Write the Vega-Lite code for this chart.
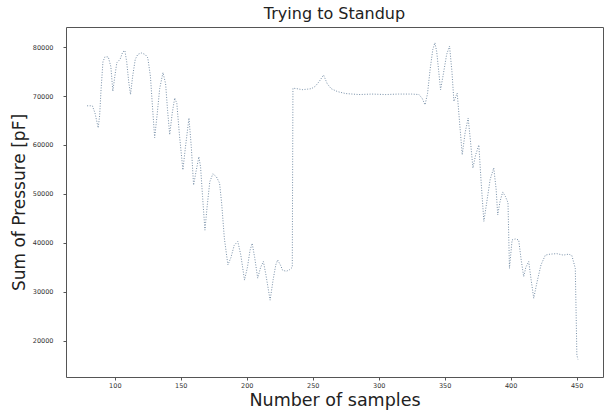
{
  "$schema": "https://vega.github.io/schema/vega-lite/v6.json",
  "width": 537,
  "height": 350,
  "autosize": {"type": "none"},
  "padding": {"left": 66, "top": 27, "right": 8, "bottom": 34},
  "background": "white",
  "config": {
    "font": "DejaVu Sans",
    "view": {"stroke": "#555555", "strokeWidth": 1},
    "axis": {"grid": false, "domain": false, "tickColor": "#555555", "tickSize": 3, "labelColor": "#333333", "labelFontSize": 6.5, "titleColor": "#222222", "titleFontWeight": "normal", "labelFont": "DejaVu Sans", "titleFont": "DejaVu Sans"}
  },
  "title": {"text": "Trying to Standup", "fontSize": 16, "fontWeight": "normal", "color": "#222222", "font": "DejaVu Sans", "offset": 5},
  "data": {"values": [
    {"s": 79, "p": 68000}, {"s": 83, "p": 68000}, {"s": 85, "p": 66500}, {"s": 87.4, "p": 63500}, {"s": 88.5, "p": 66000},
    {"s": 89.5, "p": 71000}, {"s": 91, "p": 77000}, {"s": 92.5, "p": 78000}, {"s": 95, "p": 78000}, {"s": 97, "p": 76000},
    {"s": 98.5, "p": 71000}, {"s": 100, "p": 74000}, {"s": 101.5, "p": 76800}, {"s": 104, "p": 77500}, {"s": 106, "p": 79000},
    {"s": 107.6, "p": 79300}, {"s": 109, "p": 77000}, {"s": 110.5, "p": 73000}, {"s": 111.9, "p": 70300}, {"s": 113.5, "p": 74000},
    {"s": 115.5, "p": 77500}, {"s": 117.4, "p": 78500}, {"s": 120, "p": 78800}, {"s": 123, "p": 78500}, {"s": 125, "p": 77800},
    {"s": 127, "p": 74000}, {"s": 128.5, "p": 68000}, {"s": 130.2, "p": 61500}, {"s": 132, "p": 66000}, {"s": 134, "p": 71500},
    {"s": 136.5, "p": 74800}, {"s": 138.5, "p": 72500}, {"s": 140, "p": 67000}, {"s": 141.6, "p": 62100}, {"s": 143.5, "p": 66500},
    {"s": 145.4, "p": 69600}, {"s": 147, "p": 68500}, {"s": 149, "p": 62000}, {"s": 151.6, "p": 54900}, {"s": 153.5, "p": 59500},
    {"s": 156.2, "p": 65500}, {"s": 158, "p": 59500}, {"s": 159.7, "p": 51800}, {"s": 161.5, "p": 54500}, {"s": 163.7, "p": 57600},
    {"s": 165, "p": 55500}, {"s": 166.5, "p": 49500}, {"s": 168.3, "p": 42600}, {"s": 170, "p": 47500}, {"s": 172, "p": 52500},
    {"s": 174.3, "p": 54100}, {"s": 177, "p": 53500}, {"s": 179.4, "p": 52200}, {"s": 181, "p": 48000}, {"s": 183, "p": 41000},
    {"s": 185.7, "p": 35500}, {"s": 188, "p": 37000}, {"s": 190.5, "p": 39500}, {"s": 193.2, "p": 40300}, {"s": 195.5, "p": 37500},
    {"s": 198.3, "p": 32400}, {"s": 200.5, "p": 35000}, {"s": 202.5, "p": 38500}, {"s": 204.1, "p": 39900}, {"s": 206, "p": 37000},
    {"s": 208.3, "p": 32800}, {"s": 210.5, "p": 35000}, {"s": 212.6, "p": 36200}, {"s": 214.5, "p": 33500}, {"s": 217.7, "p": 28300},
    {"s": 220, "p": 32500}, {"s": 222, "p": 35500}, {"s": 223.4, "p": 36500}, {"s": 225.5, "p": 35500}, {"s": 227.2, "p": 34400},
    {"s": 230, "p": 34200}, {"s": 232.3, "p": 34500}, {"s": 234.5, "p": 35000}, {"s": 235, "p": 71600}, {"s": 238, "p": 71500},
    {"s": 242, "p": 71300}, {"s": 246, "p": 71400}, {"s": 249, "p": 71500}, {"s": 252, "p": 72000}, {"s": 255, "p": 73000},
    {"s": 258.2, "p": 74300}, {"s": 261, "p": 72500}, {"s": 264, "p": 71500}, {"s": 268.8, "p": 70900}, {"s": 275, "p": 70500},
    {"s": 285, "p": 70300}, {"s": 295, "p": 70400}, {"s": 305, "p": 70300}, {"s": 315, "p": 70400}, {"s": 325, "p": 70400},
    {"s": 330.5, "p": 70300}, {"s": 333, "p": 69500}, {"s": 335.1, "p": 68200}, {"s": 337, "p": 70500}, {"s": 339, "p": 75500},
    {"s": 341, "p": 79500}, {"s": 342.6, "p": 80900}, {"s": 344, "p": 79000}, {"s": 345.5, "p": 75000}, {"s": 346.9, "p": 71300},
    {"s": 349, "p": 74500}, {"s": 351.5, "p": 78500}, {"s": 353.7, "p": 80200}, {"s": 355.5, "p": 75000}, {"s": 357, "p": 68900},
    {"s": 359.5, "p": 70600}, {"s": 361.5, "p": 64000}, {"s": 363.3, "p": 58000}, {"s": 365.5, "p": 62500}, {"s": 367.8, "p": 65500},
    {"s": 369.5, "p": 61000}, {"s": 371.4, "p": 55300}, {"s": 373.5, "p": 58000}, {"s": 375.9, "p": 60000}, {"s": 377.5, "p": 53000},
    {"s": 379.7, "p": 44400}, {"s": 382, "p": 48500}, {"s": 384.5, "p": 53000}, {"s": 387.2, "p": 55300}, {"s": 389, "p": 51000},
    {"s": 390.2, "p": 45700}, {"s": 392, "p": 48500}, {"s": 394, "p": 50400}, {"s": 396, "p": 49500}, {"s": 398, "p": 48200},
    {"s": 399.1, "p": 34800}, {"s": 401.1, "p": 40600}, {"s": 403.5, "p": 40800}, {"s": 406.1, "p": 40600}, {"s": 408, "p": 36500},
    {"s": 409.9, "p": 33100}, {"s": 411.5, "p": 35000}, {"s": 413.7, "p": 36200}, {"s": 415.5, "p": 32500}, {"s": 417.5, "p": 28700},
    {"s": 420, "p": 32000}, {"s": 423, "p": 35500}, {"s": 426.3, "p": 37500}, {"s": 430, "p": 37700}, {"s": 435, "p": 37800},
    {"s": 440, "p": 37500}, {"s": 444, "p": 37700}, {"s": 446.4, "p": 37400}, {"s": 449, "p": 34800}, {"s": 450.2, "p": 17100},
    {"s": 451, "p": 16200}
  ]},
  "mark": {"type": "line", "color": "#7890a8", "strokeWidth": 1, "strokeDash": [1, 1.6], "clip": true},
  "encoding": {
    "x": {"field": "s", "type": "quantitative", "scale": {"domain": [63, 470], "nice": false, "zero": false},
      "axis": {"title": "Number of samples", "titleFontSize": 17.5, "values": [100, 150, 200, 250, 300, 350, 400, 450], "labelPadding": 2, "titleBaseline": "alphabetic", "titleY": 28}},
    "y": {"field": "p", "type": "quantitative", "scale": {"domain": [12600, 84100], "nice": false, "zero": false},
      "axis": {"title": "Sum of Pressure [pF]", "titleFontSize": 17, "values": [20000, 30000, 40000, 50000, 60000, 70000, 80000], "format": "d", "labelPadding": 10, "titlePadding": 4}}
  }
}
